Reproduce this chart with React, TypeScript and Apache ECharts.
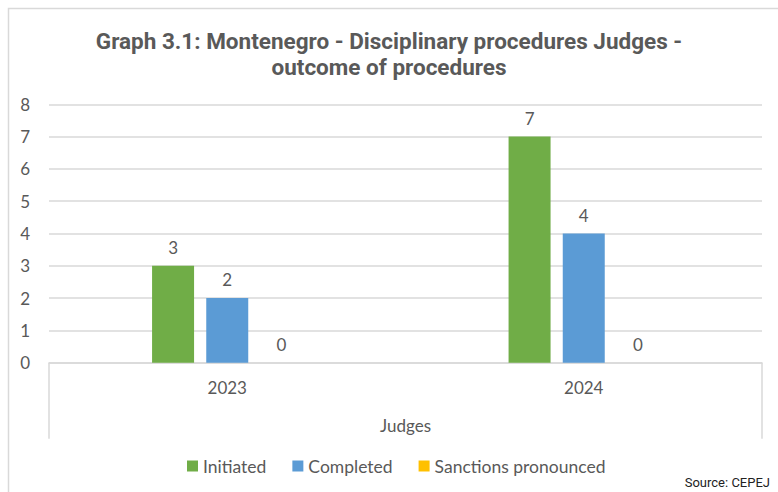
import React, { useEffect, useRef } from "react";
import * as echarts from "echarts";

const titleText = "Graph 3.1: Montenegro - Disciplinary procedures Judges -\noutcome of procedures";
const categories = ["2023", "2024"];
const groupName = "Judges";
const initiated = [3, 7];
const completed = [2, 4];
const sanctions = [0, 0];
const yTicks = { min: 0, max: 8, interval: 1 };
const sourceText = "Source: CEPEJ";

const labelFont = "Lato, 'Noto Sans', sans-serif";
const gray = "#595959";

export default function App() {
  const ref = useRef<HTMLDivElement>(null);
  useEffect(() => {
    if (!ref.current) return;
    const chart = echarts.init(ref.current, null, { renderer: "svg" });
    const label = {
      show: true,
      position: "top" as const,
      distance: 10,
      color: gray,
      fontFamily: labelFont,
      fontSize: 17,
    };
    chart.setOption({
      animation: false,
      backgroundColor: "#ffffff",
      title: {
        text: titleText,
        left: "center",
        top: 23,
        textStyle: {
          fontFamily: "Roboto, sans-serif",
          fontWeight: "bold",
          fontSize: 22.5,
          color: gray,
          lineHeight: 26,
        },
      },
      legend: {
        left: 187,
        top: 457,
        padding: 0,
        icon: "rect",
        itemWidth: 11,
        itemHeight: 11,
        itemGap: 26,
        textStyle: { fontFamily: labelFont, fontSize: 17.5, color: gray },
        data: ["Initiated", "Completed", "Sanctions pronounced"],
      },
      grid: { left: 49, right: 16, top: 104.3, bottom: 129.3, containLabel: false },
      xAxis: {
        type: "category",
        data: categories,
        name: groupName,
        nameLocation: "middle",
        nameGap: 54,
        nameTextStyle: { fontFamily: labelFont, fontSize: 17, color: gray },
        axisLine: { show: true, lineStyle: { color: "#d9d9d9", width: 1.5 } },
        axisTick: {
          show: true,
          length: 76,
          interval: (i: number) => i === 0,
          lineStyle: { color: "#d9d9d9", width: 1.5 },
        },
        axisLabel: { margin: 16, fontFamily: labelFont, fontSize: 17, color: gray },
      },
      yAxis: {
        type: "value",
        min: yTicks.min,
        max: yTicks.max,
        interval: yTicks.interval,
        axisLine: { show: false },
        axisTick: { show: false },
        splitLine: { lineStyle: { color: "#d9d9d9", width: 1.5 } },
        axisLabel: { margin: 19, fontFamily: labelFont, fontSize: 17, color: gray },
      },
      series: [
        { name: "Initiated", type: "bar", data: initiated, barWidth: 42, barGap: "29%", itemStyle: { color: "#70AD47" }, label },
        { name: "Completed", type: "bar", data: completed, barWidth: 42, barGap: "29%", itemStyle: { color: "#5B9BD5" }, label },
        { name: "Sanctions pronounced", type: "bar", data: sanctions, barWidth: 42, barGap: "29%", itemStyle: { color: "#FFC000" }, label },
      ],
      graphic: [
        {
          type: "rect",
          left: 6,
          top: 6,
          shape: { x: 0, y: 0, width: 820, height: 520 },
          style: { fill: "none", stroke: "#d9d9d9", lineWidth: 1.5 },
          silent: true,
          z: -1,
        },
        {
          type: "text",
          right: 8,
          top: 476,
          style: {
            text: sourceText,
            fontFamily: "Roboto, sans-serif",
            fontSize: 13,
            fill: "#222222",
          },
        },
      ],
    });
    return () => chart.dispose();
  }, []);
  return (
    <div
      ref={ref}
      style={{ position: "fixed", left: 0, top: 0, width: 778, height: 492, background: "#fff" }}
    />
  );
}
